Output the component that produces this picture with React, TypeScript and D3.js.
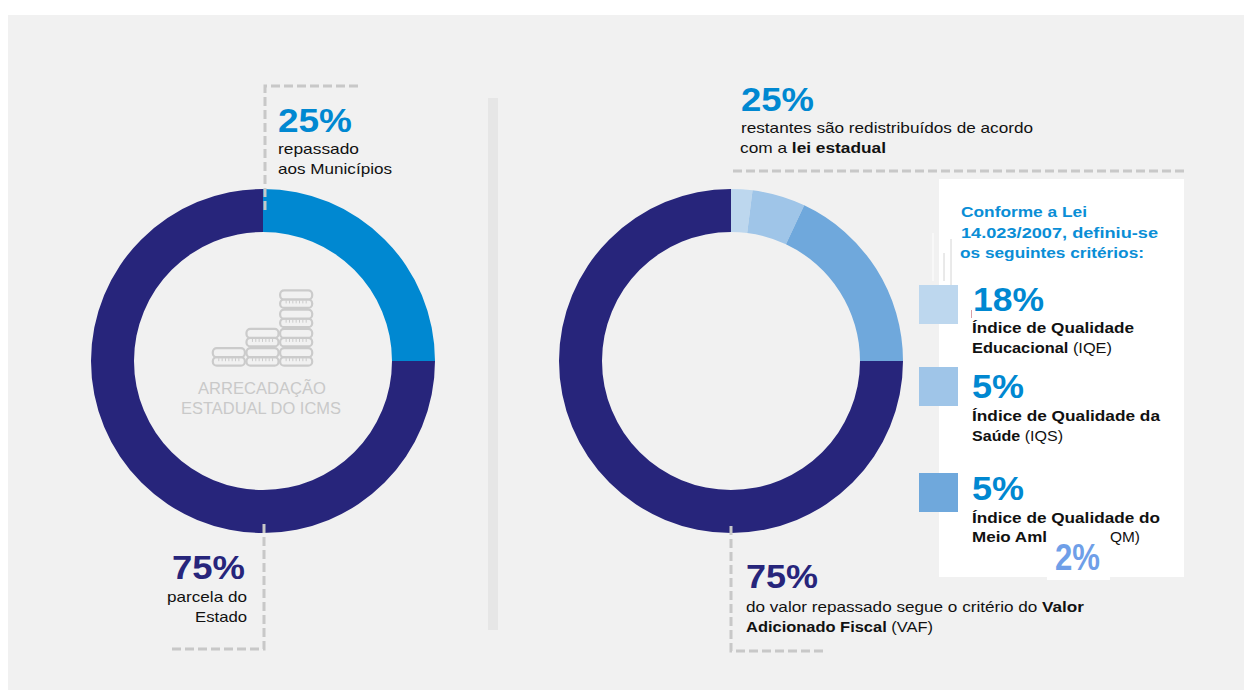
import React from "react";
import * as d3 from "d3";

const FONT = "'Liberation Sans', Arial, sans-serif";
const NAVY = "#27257b";
const BLUE = "#0088d1";
const INK = "#111111";

// Shares of the state ICMS collection
const collectionShares = [25, 75];
const collectionColors = [BLUE, NAVY];

// How the municipal quarter and the VAF portion are divided
const redistributionShares = [2, 5, 18, 75];
const redistributionColors = ["#bdd7ee", "#9fc5e8", "#6fa8dc", NAVY];

// Criteria listed in the white panel
const criteriaValues = ["18%", "5%", "5%"];
const criteriaColors = ["#bdd7ee", "#9fc5e8", "#6fa8dc"];
const criteriaTop = [285, 367, 473];

// Coin stack heights of the central icon
const coinStacks = [1, 2, 4];

type Run = { t: string; b?: boolean };

function Txt({ x, y, w, size = 15, fill = INK, anchor = "start", bold = false, runs, children }: any) {
  return (
    <text
      x={x}
      y={y}
      fontFamily={FONT}
      fontSize={size}
      fill={fill}
      textAnchor={anchor}
      fontWeight={bold ? 700 : 400}
      textLength={w}
      lengthAdjust="spacingAndGlyphs"
    >
      {runs
        ? (runs as Run[]).map((r, i) => (
            <tspan key={i} fontWeight={r.b ? 700 : 400}>
              {r.t}
            </tspan>
          ))
        : children}
    </text>
  );
}

function Donut({ cx, cy, values, colors }: { cx: number; cy: number; values: number[]; colors: string[] }) {
  const pie = d3.pie<number>().sort(null).value((d) => d);
  const arc = d3.arc<d3.PieArcDatum<number>>().innerRadius(129).outerRadius(172);
  return (
    <g transform={`translate(${cx},${cy})`}>
      {pie(values).map((d, i) => (
        <path key={i} d={arc(d) ?? ""} fill={colors[i]} />
      ))}
    </g>
  );
}

function CoinIcon() {
  const x = d3.scaleBand<number>().domain(d3.range(coinStacks.length)).range([212, 313]);
  const level = d3.scaleLinear().domain([0, 4]).range([366.5, 289.5]);
  const ticks = d3.range(7);
  return (
    <g fill="none" stroke="#cbcbcb" strokeWidth={2.2}>
      {coinStacks.map((n, col) =>
        d3.range(n).map((row) => {
          const x0 = x(col)! + 0.8;
          const w = x.bandwidth() - 1.6;
          const bottom = level(row);
          const top = level(row + 1);
          const mid = (top + bottom) / 2 + 0.3;
          return (
            <g key={`${col}-${row}`}>
              <rect x={x0} y={mid} width={w} height={bottom - mid - 0.8} rx={4} />
              {ticks.map((k) => (
                <line
                  key={k}
                  x1={x0 + 6 + (k * (w - 12)) / 6}
                  x2={x0 + 6 + (k * (w - 12)) / 6}
                  y1={mid + 1}
                  y2={mid + 4}
                  strokeWidth={1}
                />
              ))}
              <rect x={x0} y={top + 0.8} width={w} height={mid - top - 0.8} rx={4} fill="#f1f1f1" />
            </g>
          );
        })
      )}
    </g>
  );
}

function Dash({ d }: { d: string }) {
  return <path d={d} fill="none" stroke="#c8c8c8" strokeWidth={3} strokeDasharray="9 4" />;
}

export default function App() {
  return (
    <svg
      width={1252}
      height={690}
      viewBox="0 0 1252 690"
      style={{ position: "absolute", left: 0, top: 0, display: "block", background: "#fff" }}
    >
      <rect x={8} y={15} width={1236} height={675} fill="#f1f1f1" />
      <rect x={488} y={98} width={10} height={532} fill="#e6e6e6" />

      <Donut cx={263} cy={361} values={collectionShares} colors={collectionColors} />
      <Donut cx={731} cy={361} values={redistributionShares} colors={redistributionColors} />

      <Dash d="M358,86H265V210" />
      <Dash d="M264,524V649H170" />
      <Dash d="M733,171H1185" />
      <Dash d="M731,526V651H826" />

      <CoinIcon />
      <Txt x={198} y={394} w={128} size={16} fill="#c9c9c9">ARRECADAÇÃO</Txt>
      <Txt x={181} y={414} w={160} size={16} fill="#c9c9c9">ESTADUAL DO ICMS</Txt>

      <Txt x={278} y={132} w={74} size={34} fill={BLUE} bold>25%</Txt>
      <Txt x={278} y={154} w={81}>repassado</Txt>
      <Txt x={278} y={174} w={114}>aos Municípios</Txt>

      <Txt x={172} y={579} w={73} size={34} fill={NAVY} bold>75%</Txt>
      <Txt x={167} y={602} w={80}>parcela do</Txt>
      <Txt x={195} y={622} w={52}>Estado</Txt>

      <Txt x={741} y={111} w={73} size={34} fill={BLUE} bold>25%</Txt>
      <Txt x={741} y={133} w={292}>restantes são redistribuídos de acordo</Txt>
      <Txt x={740} y={153} w={146} runs={[{ t: "com a " }, { t: "lei estadual", b: true }]} />

      <Txt x={746} y={588} w={72} size={34} fill={NAVY} bold>75%</Txt>
      <Txt x={746} y={612} w={338} runs={[{ t: "do valor repassado segue o critério do " }, { t: "Valor", b: true }]} />
      <Txt x={746} y={632} w={187} runs={[{ t: "Adicionado Fiscal", b: true }, { t: " (VAF)" }]} />

      <rect x={939} y={179} width={245} height={398} fill="#fff" />
      {[933, 944, 951].map((x, i) => (
        <line
          key={x}
          x1={x}
          x2={x}
          y1={[233, 253, 239][i]}
          y2={[281, 281, 286][i]}
          stroke={i === 0 ? "#ffffff" : "#d4d4d4"}
          strokeWidth={1}
        />
      ))}
      {criteriaValues.map((_, i) => (
        <rect key={i} x={919} y={criteriaTop[i]} width={39} height={39} fill={criteriaColors[i]} />
      ))}
      <line x1={971.5} x2={971.5} y1={310} y2={318} stroke="#d9a0a8" strokeWidth={1} />

      <Txt x={961} y={217} w={126} fill="#0a8ed6" bold>Conforme a Lei</Txt>
      <Txt x={961} y={238} w={197} fill="#0a8ed6" bold>14.023/2007, definiu-se</Txt>
      <Txt x={960} y={258} w={184} fill="#0a8ed6" bold>os seguintes critérios:</Txt>

      <Txt x={973} y={311} w={71} size={33} fill={BLUE} bold>{criteriaValues[0]}</Txt>
      <Txt x={972} y={333} w={162} bold>Índice de Qualidade</Txt>
      <Txt x={972} y={353} w={140} runs={[{ t: "Educacional", b: true }, { t: " (IQE)" }]} />

      <Txt x={972} y={398} w={52} size={33} fill={BLUE} bold>{criteriaValues[1]}</Txt>
      <Txt x={972} y={421} w={188} bold>Índice de Qualidade da</Txt>
      <Txt x={972} y={441} w={91} runs={[{ t: "Saúde", b: true }, { t: " (IQS)" }]} />

      <Txt x={972} y={500} w={52} size={33} fill={BLUE} bold>{criteriaValues[2]}</Txt>
      <Txt x={972} y={523} w={188} bold>Índice de Qualidade do</Txt>
      {/* The last line is interrupted by the patch that carries the 2% figure */}
      <Txt x={972} y={542} w={75} bold>Meio Aml</Txt>
      <Txt x={1110} y={542} w={30}>QM)</Txt>

      <rect x={1047} y={545} width={63} height={35} fill="#fff" />
      <Txt x={1055} y={570} w={45} size={36} fill="#6f9fe8" bold>2%</Txt>
    </svg>
  );
}
